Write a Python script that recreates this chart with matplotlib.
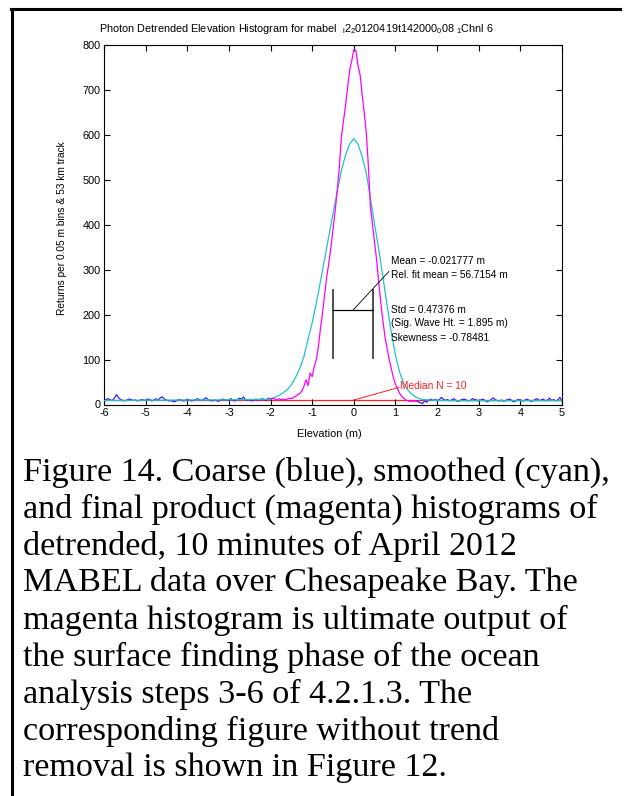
import numpy as np
import matplotlib
matplotlib.use("Agg")
import matplotlib.pyplot as plt
from matplotlib.lines import Line2D

# ---------------- data ----------------
bin_width = 0.05
bin_start = -6.0

# coarse (blue) histogram counts, tails; bins -6.00 .. -2.05
blue_left = [12, 11, 13, 10, 9, 14, 22, 15, 11, 9, 8, 10, 12, 11, 9, 10, 8, 9, 11, 10,
             9, 12, 11, 8, 10, 13, 9, 15, 17, 12, 10, 8, 9, 7, 6, 9, 11, 10, 8, 9,
             12, 10, 8, 9, 11, 13, 10, 9, 12, 15, 11, 9, 8, 10, 9, 7, 10, 12, 11, 9,
             10, 13, 9, 8, 11, 14, 12, 17, 10, 9, 11, 8, 10, 12, 9, 11, 13, 10, 9, 14]

# final product (magenta) histogram, bins -2.00 .. 1.50 (same as coarse in this window)
magenta_counts = [12, 14, 12, 10, 13, 11, 12, 10, 12, 14,
                  13, 16, 18, 22, 24, 30, 40, 55, 42, 70,
                  62, 85, 100, 130, 170, 205, 245, 285, 315, 350,
                  390, 430, 475, 525, 595, 630, 665, 705, 745, 765,
                  790, 788, 755, 735, 690, 650, 605, 530, 440, 400,
                  360, 320, 270, 225, 185, 150, 125, 100, 80, 60,
                  45, 35, 25, 18, 14, 10, 8, 7, 8, 7, 8]

# coarse (blue) histogram counts, bins 1.55 .. 5.00
blue_right = [6, 4, 2, 8, 5, 10, 12, 9, 11, 8,
              10, 16, 12, 9, 11, 8, 10, 13, 9, 7,
              9, 11, 12, 10, 8, 9, 13, 11, 10, 8,
              10, 12, 9, 6, 8, 11, 15, 10, 9, 8,
              10, 7, 9, 11, 12, 8, 6, 9, 11, 10,
              8, 9, 12, 10, 7, 8, 11, 13, 9, 10,
              12, 8, 10, 14, 9, 11, 8, 10, 16, 7]

# smoothed (cyan) histogram
cyan_x = [-6.0, -5.5, -5.0, -4.5, -4.0, -3.5, -3.0, -2.5, -2.2,
          -2.0, -1.9, -1.8, -1.7, -1.6, -1.5, -1.4, -1.3, -1.2, -1.1, -1.0,
          -0.9, -0.8, -0.7, -0.6, -0.5, -0.4, -0.3, -0.2, -0.1, 0.0,
          0.1, 0.2, 0.3, 0.4, 0.5, 0.6, 0.7, 0.8, 0.9, 1.0,
          1.1, 1.2, 1.3, 1.4, 1.5, 1.6, 1.8, 2.0, 2.5, 3.0, 3.5, 4.0, 4.5, 5.0]
cyan_y = [9, 9, 9.5, 9.5, 10, 10, 10.5, 11, 11.5,
          12, 16, 20, 26, 33, 44, 60, 80, 106, 145, 182,
          226, 275, 325, 375, 425, 474, 520, 555, 580, 592,
          580, 553, 515, 458, 400, 345, 283, 220, 160, 110,
          72, 47, 32, 22, 16, 12, 10, 9, 8.5, 8.5, 8.5, 8.5, 8.5, 8.5]

median_n = 10
mean_val = -0.021777
rel_fit_mean = 56.7154
std_val = 0.47376
sig_wave_ht = 1.895
skewness = -0.78481

x_ticks = [-6, -5, -4, -3, -2, -1, 0, 1, 2, 3, 4, 5]
y_ticks = [0, 100, 200, 300, 400, 500, 600, 700, 800]

title = (r"Photon Detrended Elevation Histogram for mabel  $_{\mathrm{l}}$2$_{\mathrm{2}}$"
         r"0120419t142000$_{\mathrm{0}}$08 $_{\mathrm{1}}$Chnl 6")
xlabel = "Elevation (m)"
ylabel = "Returns per 0.05 m bins & 53 km track"
caption_lines = [
    "Figure 14. Coarse (blue), smoothed (cyan),",
    "and final product (magenta) histograms of",
    "detrended, 10 minutes of April 2012",
    "MABEL data over Chesapeake Bay. The",
    "magenta histogram is ultimate output of",
    "the surface finding phase of the ocean",
    "analysis steps 3-6 of 4.2.1.3. The",
    "corresponding figure without trend",
    "removal is shown in Figure 12.",
]

# ---------------- fonts ----------------
sans = "Liberation Sans"
plt.rcParams['font.family'] = [sans, 'DejaVu Sans']
plt.rcParams['mathtext.fontset'] = 'custom'
plt.rcParams['mathtext.rm'] = sans
plt.rcParams['mathtext.it'] = sans
plt.rcParams['axes.unicode_minus'] = False
fs = 7.3
fs_tick = 7.8

# ---------------- figure ----------------
W, H = 624, 796
fig = plt.figure(figsize=(W / 100, H / 100), dpi=100)
fig.patch.set_facecolor('white')

def fx(px):
    return px / W

def fy(py):
    return 1 - py / H

ax = fig.add_axes([fx(104), fy(404.5), fx(562) - fx(104), fy(45.3) - fy(404.5)])

blue_counts = blue_left + magenta_counts + blue_right
blue_x = np.round(bin_start + bin_width * np.arange(len(blue_counts)), 2)
i0 = len(blue_left)
i1 = i0 + len(magenta_counts)
mag_x = blue_x[i0:i1]

lw = 0.9
ax.plot([x_ticks[0], x_ticks[-1]], [median_n, median_n], color='#ff2020', lw=lw, zorder=1)
ax.plot(blue_x[:i0 + 1], blue_counts[:i0 + 1], color='#2a2aff', lw=lw, zorder=2)
ax.plot(blue_x[i1 - 1:], blue_counts[i1 - 1:], color='#2a2aff', lw=lw, zorder=2)
ax.plot(cyan_x, cyan_y, color='#20c4c4', lw=lw, zorder=3)
ax.plot(mag_x, magenta_counts, color='#ff00ff', lw=lw, zorder=4)

# std bars
lo, hi = mean_val - std_val, mean_val + std_val
ax.plot([lo, lo], [104, 254], color='#505050', lw=1.4, zorder=5)
ax.plot([hi, hi], [104, 254], color='#505050', lw=1.4, zorder=5)
ax.plot([lo, hi], [210, 210], color='black', lw=0.9, zorder=5)
ax.plot([mean_val, 0.84], [210, 296], color='black', lw=0.6, zorder=5)

tx = 0.9
ax.text(tx, 320, f"Mean = {mean_val} m", fontsize=fs, va='center', ha='left')
ax.text(tx, 288, f"Rel. fit mean = {rel_fit_mean} m", fontsize=fs, va='center', ha='left')
ax.text(tx, 210, f"Std = {std_val} m", fontsize=fs, va='center', ha='left')
ax.text(tx, 181, f"(Sig. Wave Ht. = {sig_wave_ht} m)", fontsize=fs, va='center', ha='left')
ax.text(tx, 149, f"Skewness = {skewness}", fontsize=fs, va='center', ha='left')

# median annotation
ax.plot([0, 1.08], [median_n, 38], color='#ff2020', lw=0.7, zorder=5)
ax.text(1.1, 42, f"Median N = {median_n}", fontsize=fs, color='#ff2020', va='center', ha='left')

ax.set_xlim(x_ticks[0], x_ticks[-1])
ax.set_ylim(y_ticks[0], y_ticks[-1])
ax.set_xticks(x_ticks)
ax.set_yticks(y_ticks)
ax.tick_params(direction='in', length=4, width=0.8, top=True, right=True,
               labelsize=fs_tick, pad=2.5)
for s in ax.spines.values():
    s.set_linewidth(0.8)
    s.set_color('black')

ax.set_xlabel(xlabel, fontsize=fs_tick)
ax.xaxis.set_label_coords((329 - 104) / 458, -(429 - 404.5) / 359.2)
ax.set_ylabel(ylabel, fontsize=fs)
ax.yaxis.set_label_coords((67 - 104) / 458, 0.49)

fig.text(fx(296), fy(29), title, fontsize=7.8, ha='center', va='center')

# outer frame (top and left)
fig.add_artist(Line2D([fx(11), fx(620)], [fy(9), fy(9)], color='black', lw=2.2,
                      transform=fig.transFigure))
fig.add_artist(Line2D([fx(12), fx(12)], [fy(9), fy(796)], color='black', lw=2.2,
                      transform=fig.transFigure))

# caption
for i, line in enumerate(caption_lines):
    fig.text(fx(23), fy(472 + 37 * i), line, fontsize=24.6, family=['Liberation Serif'],
             ha='left', va='center', color='black')

fig.savefig("out.png", dpi=100, facecolor='white')
